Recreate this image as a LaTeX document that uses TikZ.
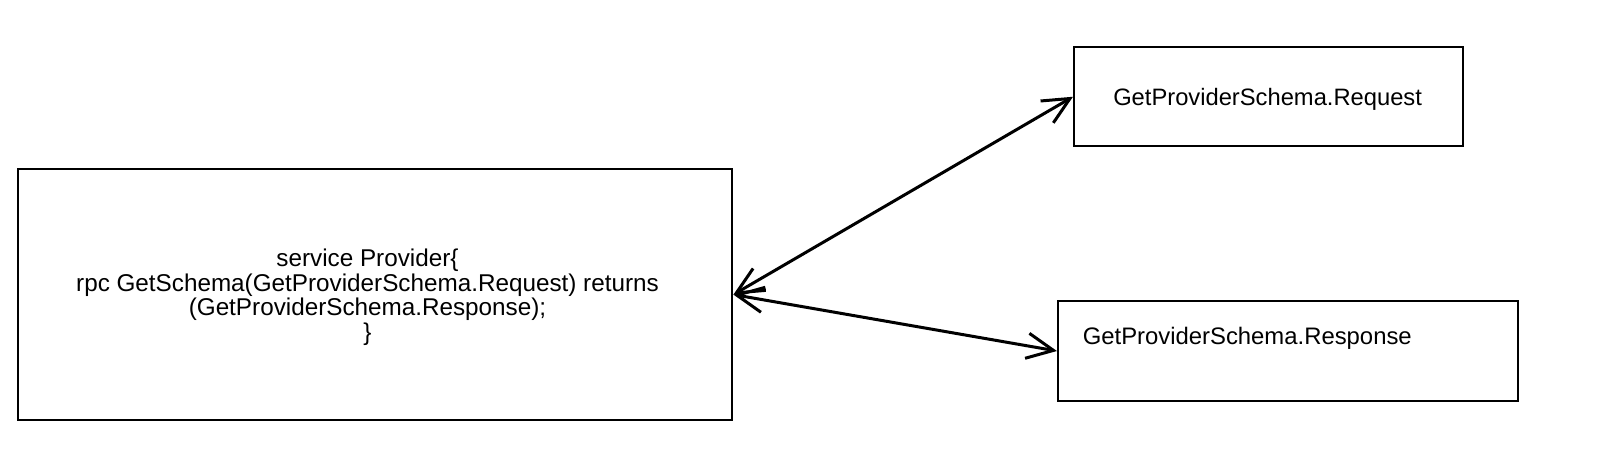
\documentclass[tikz,border=0pt]{standalone}
\usepackage{fontspec}
\setmainfont{Liberation Sans}
\usetikzlibrary{arrows.meta}
\tikzset{
  box/.style={draw=black, line width=1.5pt, rectangle, inner sep=0pt, fill=white},
  lbl/.style={text=black, inner sep=0pt},
  link/.style={draw=black, line width=2.25pt,
    {Straight Barb[length=20pt,width=19pt]}-{Straight Barb[length=20pt,width=19pt]}}
}
\begin{document}
\begin{tikzpicture}[x=0.75pt,y=-0.75pt]
\useasboundingbox (0,0) rectangle (1604,464);
\node[box, minimum width=535.5pt, minimum height=188.7pt] (svc) at (375.4,294.6) {};
\node[lbl, align=center, font=\fontsize{18.2}{18.3}\selectfont] (svctext) at (367.5,297.3) {service Provider\{\\rpc GetSchema(GetProviderSchema.Request) returns\\(GetProviderSchema.Response);\\\}};
\node[box, minimum width=291.75pt, minimum height=74.6pt] (req) at (1268.5,96.75) {};
\node[lbl, anchor=base west, font=\fontsize{17.8}{21}\selectfont] (reqtext) at (1113,105) {GetProviderSchema.Request};
\node[box, minimum width=345.4pt, minimum height=75pt] (resp) at (1288.2,351) {};
\node[lbl, anchor=base west, font=\fontsize{17.9}{21}\selectfont] (resptext) at (1082.5,344.5) {GetProviderSchema.Response};
\draw[link] (svc.east) -- (req.west);
\draw[link] (svc.east) -- (resp.west);
\end{tikzpicture}
\end{document}
